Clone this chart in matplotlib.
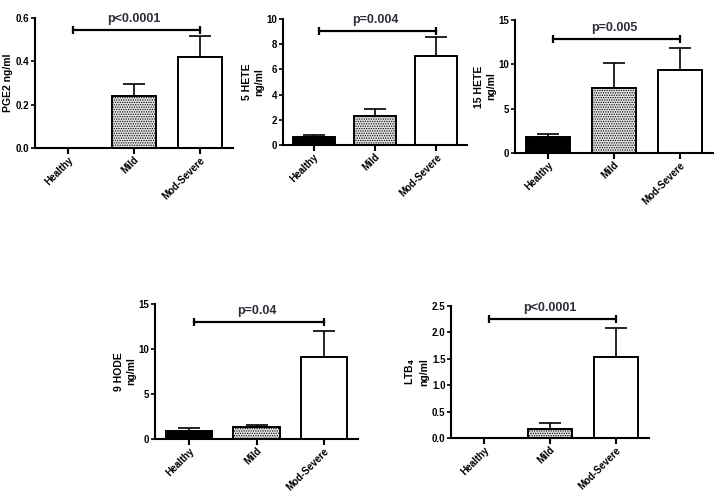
import matplotlib.pyplot as plt
import numpy as np

plt.rcParams.update({
    'font.family': ['Liberation Sans', 'DejaVu Sans'],
    'font.weight': 'bold',
    'font.size': 7,
    'axes.linewidth': 1.5,
    'xtick.major.width': 1.5,
    'ytick.major.width': 1.2,
    'xtick.major.size': 4,
    'ytick.major.size': 3,
    'xtick.major.pad': 1,
    'ytick.major.pad': 1,
    'hatch.color': '#8a8a8a',
    'hatch.linewidth': 0.6,
})

groups = ['Healthy', 'Mild', 'Mod-Severe']

pge2_mean = [0.0, 0.242, 0.419]
pge2_err = [0.0, 0.054, 0.099]

hete5_mean = [0.65, 2.3, 7.05]
hete5_err = [0.15, 0.55, 1.5]

hete15_mean = [1.75, 7.35, 9.33]
hete15_err = [0.4, 2.75, 2.5]

hode9_mean = [0.92, 1.33, 9.1]
hode9_err = [0.3, 0.25, 2.9]

ltb4_mean = [0.0, 0.17, 1.54]
ltb4_err = [0.0, 0.11, 0.55]

# (label, means, errors, yticks, bracket height, p text, tick format)
panels = [
    ('PGE2 ng/ml', pge2_mean, pge2_err, [0.0, 0.2, 0.4, 0.6], 0.545, 'p<0.0001', '{:.1f}'),
    ('5 HETE\nng/ml', hete5_mean, hete5_err, [0, 2, 4, 6, 8, 10], 9.07, 'p=0.004', '{:.0f}'),
    ('15 HETE\nng/ml', hete15_mean, hete15_err, [0, 5, 10, 15], 12.85, 'p=0.005', '{:.0f}'),
    ('9 HODE\nng/ml', hode9_mean, hode9_err, [0, 5, 10, 15], 12.95, 'p=0.04', '{:.0f}'),
    ('LTB$_4$\nng/ml', ltb4_mean, ltb4_err, [0.0, 0.5, 1.0, 1.5, 2.0, 2.5], 2.26, 'p<0.0001', '{:.1f}'),
]

# axes boxes in pixels: left, right, top, bottom
boxes = [(35, 233, 18, 148), (283, 467, 19, 145), (515, 713, 20, 153),
         (155, 358, 304, 439), (451, 649, 306, 438)]

W, H = 720, 496
fig = plt.figure(figsize=(W / 100, H / 100), dpi=100)

faces = ['black', '#e2e2e2', 'white']
hatches = [None, '.......', None]
x = np.arange(len(groups))

for (label, mean, err, yt, yb, ptxt, fmt), (l, r, t, b) in zip(panels, boxes):
    ax = fig.add_axes([l / W, 1 - b / H, (r - l) / W, (b - t) / H])
    mean = np.array(mean)
    err = np.array(err)
    for i in range(len(groups)):
        if mean[i] > 0:
            ax.bar(x[i], mean[i], width=0.68, color=faces[i], edgecolor='black',
                   linewidth=1.4, hatch=hatches[i], zorder=2)
            ax.errorbar(x[i], mean[i], yerr=[[0], [err[i]]], fmt='none',
                        ecolor='black', elinewidth=1.2, capsize=8, capthick=1.2, zorder=1)
    ax.set_xlim(-0.5, 2.5)
    ax.set_ylim(0, yt[-1])
    ax.set_yticks(yt)
    ax.set_yticklabels([fmt.format(v) for v in yt])
    ax.set_xticks(x)
    ax.set_xticklabels(groups, rotation=45, ha='right', rotation_mode='anchor')
    ax.spines['top'].set_visible(False)
    ax.spines['right'].set_visible(False)
    ax.set_ylabel(label, fontsize=7.5, fontweight='bold', labelpad=2)

    # significance bracket
    ax.plot([0.08, 2.0], [yb, yb], color='black', lw=1.6, clip_on=False)
    ax.plot([0.08, 2.0], [yb, yb], ls='none', marker='|', ms=6, mew=1.6,
            color='black', clip_on=False)
    ax.annotate(ptxt, xy=(1.0, yb), xytext=(0, 8), textcoords='offset points',
                ha='center', va='center', fontsize=9, fontweight='bold',
                color='#2e2e3a')

fig.savefig('out.png', dpi=100)
